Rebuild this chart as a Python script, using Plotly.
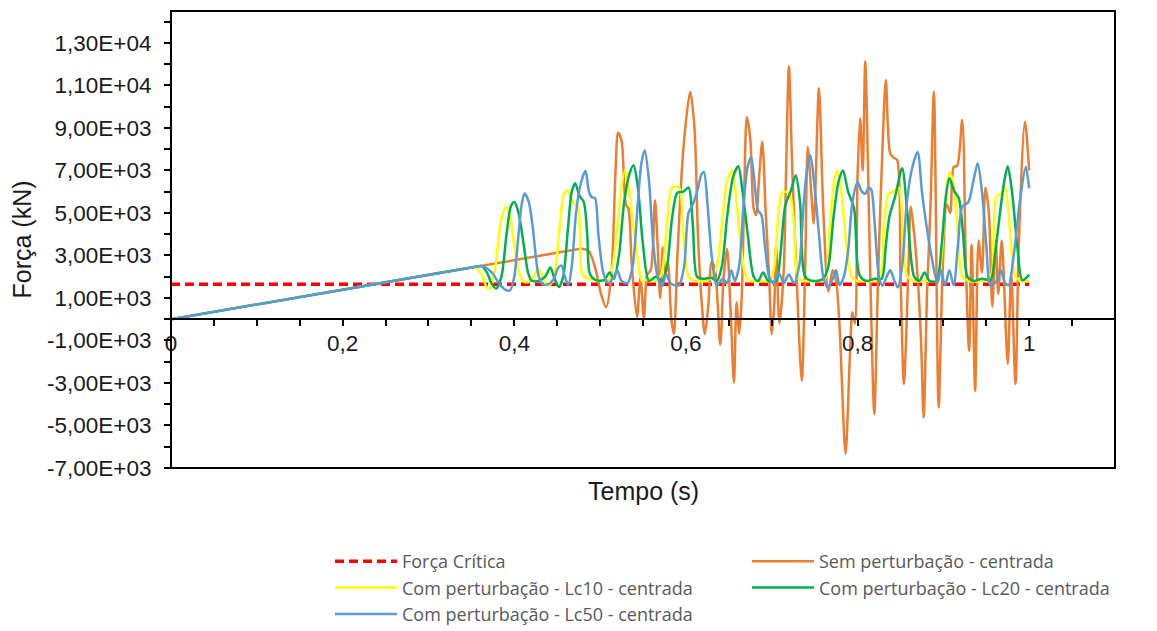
import plotly.graph_objects as go

# ---------------- data ----------------
crit_t = [0.0, 1.0]
crit_F = [1650, 1650]

sem_t = [0, 0.2, 0.35, 0.47, 0.479, 0.487, 0.495, 0.501, 0.507, 0.513, 0.518, 0.521, 0.525,
         0.530, 0.533, 0.537, 0.543, 0.547, 0.551, 0.555, 0.559, 0.564, 0.567, 0.570, 0.573,
         0.576, 0.579, 0.583, 0.586, 0.590, 0.597, 0.605, 0.610, 0.614, 0.618, 0.622, 0.626,
         0.630, 0.634, 0.640, 0.644, 0.648, 0.652, 0.656, 0.659, 0.662, 0.665, 0.668, 0.671,
         0.675, 0.679, 0.682, 0.685, 0.689, 0.693, 0.697, 0.700, 0.703, 0.705, 0.709, 0.714,
         0.717, 0.720, 0.724, 0.729, 0.735, 0.739, 0.742, 0.746, 0.749, 0.755, 0.760, 0.766,
         0.771, 0.775, 0.779, 0.786, 0.791, 0.794, 0.797, 0.800, 0.803, 0.806, 0.809, 0.813,
         0.816, 0.8195, 0.824, 0.829, 0.833, 0.838, 0.842, 0.846, 0.850, 0.854, 0.859, 0.862,
         0.866, 0.870, 0.874, 0.877, 0.881, 0.885, 0.889, 0.8945, 0.899, 0.904, 0.908, 0.912,
         0.916, 0.922, 0.926, 0.930, 0.933, 0.937, 0.941, 0.945, 0.949, 0.953, 0.957, 0.961,
         0.964, 0.968, 0.975, 0.979, 0.984, 0.988, 0.995, 1.0]
sem_F = [0, 1389, 2430, 3263, 3320, 3200, 2300, 1200, 560, 2000, 7000, 8770, 8400,
         5400, 5200, 2500, 100, 2000, 50, 2100, 2300, 5600, 3500, 1000, 3400,
         2100, 2700, 0, -700, 2900, 8000, 10700, 9000, 4000, 1000, -700, 600,
         2700, 2300, -1200, 2000, 3300, 500, -3000, 800, -700, 1000, 6000, 9500,
         8500, 5200, 4900, 6500, 8350, 5000, 2000, -700, 700, 3500, -200, 2300,
         7500, 11900, 7000, 2000, -2900, 2500, 8100, 6000, 4500, 10860, 5200, 1300,
         2300, 1800, -300, -6340, -1800, 330, -200, 6700, 9460, 7000, 12120, 5500,
         0, -4460, 2100, 8000, 11250, 7800, 7600, 7500, 2200, -3040, 2000, 5300,
         4000, 2000, -1000, -4630, 1300, 5300, 10700, -4150, 2100, 5400, 5000, 7170,
         7200, 9370, 2900, -1480, 3500, -3370, 3700, 2200, 6200, 5000, 600, 3700,
         1200, 3700, -2100, 2200, -3040, 3700, 9290, 7000]

lc10_t = [0, 0.2, 0.35, 0.355, 0.362, 0.368, 0.372, 0.378, 0.384, 0.390, 0.395, 0.400, 0.406,
          0.412, 0.420, 0.428, 0.434, 0.440, 0.446, 0.452, 0.458, 0.462, 0.468, 0.474, 0.479,
          0.484, 0.492, 0.500, 0.510, 0.518, 0.524, 0.529, 0.534, 0.540, 0.546, 0.549, 0.558,
          0.566, 0.572, 0.578, 0.584, 0.592, 0.597, 0.603, 0.610, 0.620, 0.628, 0.636, 0.642,
          0.648, 0.654, 0.659, 0.664, 0.670, 0.676, 0.688, 0.698, 0.703, 0.708, 0.712, 0.720,
          0.726, 0.731, 0.740, 0.752, 0.762, 0.767, 0.772, 0.776, 0.781, 0.787, 0.793, 0.800,
          0.810, 0.818, 0.826, 0.831, 0.836, 0.842, 0.848, 0.853, 0.858, 0.866, 0.880, 0.893,
          0.898, 0.902, 0.907, 0.912, 0.917, 0.922, 0.930, 0.945, 0.955, 0.959, 0.962, 0.968,
          0.972, 0.977, 0.984, 0.992, 1.0]
lc10_F = [0, 1389, 2430, 2440, 2100, 1500, 1450, 2500, 4500, 5280, 4800, 3500, 2150,
          1750, 1800, 2390, 1900, 1580, 1900, 4000, 5900, 6070, 5500, 5300, 2150,
          1950, 1900, 1800, 1850, 3500, 6000, 7000, 6000, 4000, 2200, 1800, 1900,
          1800, 2200, 4500, 6200, 6200, 4000, 2000, 1800, 1800, 1900, 2500, 4500,
          6500, 7000, 5500, 3500, 2000, 1800, 1800, 1800, 2500, 5000, 5950, 5950,
          4500, 1900, 1800, 1800, 1900, 4000, 6300, 7000, 6000, 3500, 2000, 1800,
          1800, 1800, 2000, 4500, 5900, 6000, 6200, 4000, 2000, 1800, 1800, 1800,
          3000, 5500, 6930, 6300, 4000, 2000, 1800, 1800, 2000, 4500, 5800, 5900,
          6200, 4500, 2000, 1800, 1800]

lc20_t = [0, 0.2, 0.35, 0.362, 0.368, 0.374, 0.379, 0.385, 0.391, 0.396, 0.400, 0.405, 0.411,
          0.416, 0.420, 0.428, 0.436, 0.442, 0.447, 0.452, 0.457, 0.462, 0.467, 0.471, 0.476,
          0.481, 0.485, 0.488, 0.495, 0.505, 0.511, 0.516, 0.522, 0.528, 0.534, 0.539, 0.544,
          0.550, 0.557, 0.565, 0.572, 0.578, 0.584, 0.590, 0.597, 0.603, 0.608, 0.613, 0.620,
          0.630, 0.636, 0.642, 0.648, 0.655, 0.661, 0.666, 0.672, 0.679, 0.684, 0.690, 0.696,
          0.705, 0.710, 0.716, 0.722, 0.728, 0.733, 0.739, 0.748, 0.760, 0.766, 0.772, 0.778,
          0.783, 0.789, 0.796, 0.802, 0.810, 0.820, 0.828, 0.833, 0.837, 0.844, 0.852, 0.858,
          0.866, 0.872, 0.878, 0.884, 0.892, 0.898, 0.903, 0.907, 0.913, 0.918, 0.923, 0.928,
          0.935, 0.945, 0.955, 0.960, 0.966, 0.971, 0.975, 0.980, 0.986, 0.992, 1.0]
lc20_F = [0, 1389, 2430, 2500, 2200, 1650, 1440, 2000, 4000, 5300, 5510, 5000, 3500,
          2200, 1820, 1800, 2000, 2430, 1900, 1510, 2000, 4000, 6000, 6400, 5800,
          5510, 4000, 2150, 1840, 1850, 2200, 1900, 3000, 5500, 6800, 7240, 6200,
          3500, 1800, 2000, 1800, 2500, 4800, 5950, 6000, 6200, 4500, 2000, 1900,
          1950, 1800, 2500, 4800, 6700, 7200, 6000, 4000, 2000, 1800, 2200, 1800,
          1800, 3000, 5400, 6000, 6770, 5500, 2000, 1800, 1900, 2500, 4800, 6500,
          7000, 6000, 5200, 2100, 1800, 1900, 1900, 3500, 4800, 5800, 7100, 5000,
          2000, 1800, 2200, 1800, 1800, 3500, 5800, 6630, 6000, 5690, 4000, 2000,
          1800, 1900, 1850, 3000, 5000, 6500, 7200, 6000, 3500, 1830, 2100]

lc50_t = [0, 0.2, 0.35, 0.362, 0.368, 0.375, 0.382, 0.389, 0.395, 0.400, 0.405, 0.409, 0.412,
          0.417, 0.421, 0.425, 0.428, 0.433, 0.440, 0.446, 0.451, 0.455, 0.459, 0.463, 0.467,
          0.472, 0.477, 0.483, 0.487, 0.490, 0.494, 0.498, 0.504, 0.510, 0.516, 0.520, 0.525,
          0.532, 0.538, 0.544, 0.548, 0.552, 0.557, 0.562, 0.567, 0.572, 0.577, 0.582, 0.587,
          0.592, 0.598, 0.603, 0.608, 0.613, 0.618, 0.621, 0.625, 0.630, 0.636, 0.643, 0.648,
          0.653, 0.657, 0.662, 0.667, 0.672, 0.676, 0.681, 0.684, 0.688, 0.692, 0.697, 0.702,
          0.708, 0.714, 0.720, 0.726, 0.732, 0.737, 0.741, 0.745, 0.750, 0.755, 0.760, 0.765,
          0.771, 0.775, 0.779, 0.784, 0.789, 0.794, 0.800, 0.805, 0.809, 0.813, 0.816, 0.820,
          0.825, 0.829, 0.834, 0.838, 0.843, 0.847, 0.852, 0.857, 0.863, 0.870, 0.875, 0.880,
          0.886, 0.893, 0.897, 0.902, 0.907, 0.912, 0.917, 0.922, 0.929, 0.935, 0.940, 0.945,
          0.950, 0.955, 0.962, 0.967, 0.972, 0.976, 0.982, 0.989, 0.996, 1.0]
lc50_F = [0, 1389, 2430, 2500, 2400, 2150, 1700, 1400, 1350, 2000, 4000, 5500, 5920,
          5500, 4500, 3000, 2100, 1650, 1650, 1900, 2400, 2530, 2000, 1600, 2500,
          5000, 6300, 6980, 6000, 5750, 5700, 4000, 2150, 1700, 2000, 2300, 1800,
          1700, 2500, 5500, 7300, 7950, 6500, 3500, 2000, 1550, 2100, 1700, 1600,
          1600, 2500, 5000, 5400, 6000, 6800, 6930, 5500, 3000, 1580, 1900, 1700,
          2300, 1800, 2500, 5300, 7200, 7620, 6000, 5120, 4900, 3500, 2000, 1700,
          2200, 1700, 2100, 1700, 2500, 5300, 7000, 7720, 6200, 4000, 2000, 1500,
          1900, 2300, 1600, 2000, 3200, 5500, 6460, 6000, 5900, 6200, 6100, 4500,
          2000, 1580, 2000, 2300, 1800, 1500, 2500, 5300, 7000, 7870, 6000, 4500,
          3000, 1700, 2300, 1600, 2300, 1600, 3500, 5280, 5500, 6500, 7340, 6000,
          3500, 1580, 1800, 2300, 1700, 1600, 3000, 5500, 7170, 6160]

# axis ticks
y_tickvals = list(range(-7000, 14001, 1000))
y_ticktext = ["-7,00E+03", "", "-5,00E+03", "", "-3,00E+03", "", "-1,00E+03", "",
              "1,00E+03", "", "3,00E+03", "", "5,00E+03", "", "7,00E+03", "",
              "9,00E+03", "", "1,10E+04", "", "1,30E+04", ""]
x_tickvals = [0, 0.05, 0.1, 0.15, 0.2, 0.25, 0.3, 0.35, 0.4, 0.45, 0.5, 0.55, 0.6, 0.65,
              0.7, 0.75, 0.8, 0.85, 0.9, 0.95, 1.0, 1.05, 1.1]
x_ticktext = ["0", "", "", "", "0,2", "", "", "", "0,4", "", "", "", "0,6", "", "", "",
              "0,8", "", "", "", "1", "", ""]

Y_MIN, Y_MAX = -7000, 14500
X_MIN, X_MAX = 0, 1.1

# ---------------- figure ----------------
fig = go.Figure()
fig.add_trace(go.Scatter(x=crit_t, y=crit_F, mode="lines", name="Força Crítica",
                         line=dict(color="#FF0000", width=3.5, dash="9px,5px")))
series = [
    ("Sem perturbação - centrada", sem_t, sem_F, "#ED7D31"),
    ("Com perturbação - Lc10 - centrada", lc10_t, lc10_F, "#FFFF00"),
    ("Com perturbação - Lc20 - centrada", lc20_t, lc20_F, "#00B050"),
    ("Com perturbação - Lc50 - centrada", lc50_t, lc50_F, "#5B9BD5"),
]
for name, t, f, c in series:
    fig.add_trace(go.Scatter(x=t, y=f, mode="lines", name=name,
                             line=dict(color=c, width=2.5, shape="spline", smoothing=0.8)))

FAM = "Liberation Sans, Arial, sans-serif"
tick_font = dict(family=FAM, size=22.5, color="#1a1a1a")
title_font = dict(family=FAM, size=25, color="#1a1a1a")
zero_pos = (0 - Y_MIN) / (Y_MAX - Y_MIN)

fig.update_layout(
    width=1157, height=631,
    margin=dict(l=163, r=50, t=3, b=171, autoexpand=False),
    paper_bgcolor="white", plot_bgcolor="white",
    font=tick_font,
    showlegend=True,
    legend=dict(orientation="h", xref="container", yref="container",
                x=322 / 1157, xanchor="left", y=1 - 535 / 631, yanchor="top",
                entrywidth=340, entrywidthmode="pixels", itemwidth=62,
                font=dict(family="Open Sans, Liberation Sans, sans-serif", size=18, color="#595959"),
                bgcolor="rgba(0,0,0,0)", tracegroupgap=0),
    xaxis=dict(range=[X_MIN, X_MAX], anchor="free", position=zero_pos,
               tickmode="array", tickvals=x_tickvals, ticktext=x_ticktext,
               ticks="outside", ticklen=6, tickwidth=2, tickcolor="black",
               showline=True, linecolor="black", linewidth=2,
               showgrid=False, zeroline=False, tickfont=tick_font,
               ticklabelstandoff=-2),
    yaxis=dict(range=[Y_MIN, Y_MAX], tickmode="array", tickvals=y_tickvals, ticktext=y_ticktext,
               ticks="outside", ticklen=6, tickwidth=2, tickcolor="black",
               showline=False, showgrid=False, zeroline=False, tickfont=tick_font,
               ticklabelstandoff=8,
               title=dict(text="Força (kN)", font=title_font, standoff=9)),
    shapes=[dict(type="rect", xref="paper", yref="paper", x0=0, y0=0, x1=1, y1=1,
                 line=dict(color="black", width=2), fillcolor="rgba(0,0,0,0)", layer="above")],
    annotations=[dict(text="Tempo (s)", xref="paper", yref="paper", x=0.5, y=-0.05,
                      xanchor="center", yanchor="middle", showarrow=False, font=title_font)],
)

fig.write_html("out.html")
